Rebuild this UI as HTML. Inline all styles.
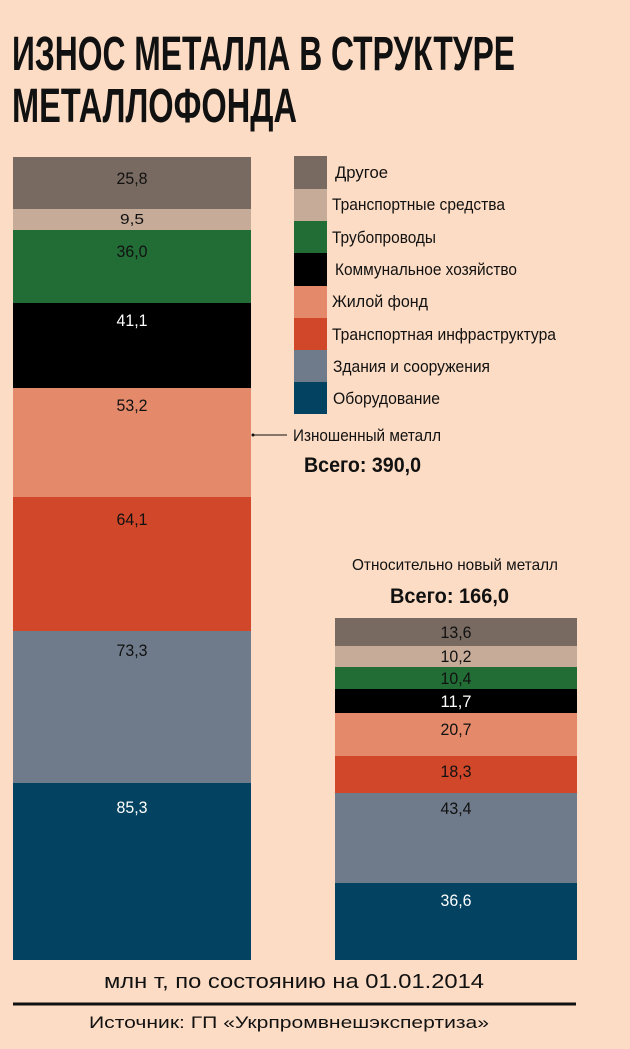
<!DOCTYPE html>
<html><head><meta charset="utf-8"><style>
html,body{margin:0;padding:0;background:#fcdcc4;}
svg{display:block}
text{font-family:"Liberation Sans Narrow","Liberation Sans",sans-serif;}
</style></head><body>
<svg width="630" height="1049" viewBox="0 0 630 1049" xmlns="http://www.w3.org/2000/svg">
<rect width="630" height="1049" fill="#fcdcc4"/>
<text x="12" y="70" font-size="48" font-weight="bold" textLength="503" lengthAdjust="spacingAndGlyphs" fill="#111">ИЗНОС МЕТАЛЛА В СТРУКТУРЕ</text>
<text x="12" y="122" font-size="48" font-weight="bold" textLength="285" lengthAdjust="spacingAndGlyphs" fill="#111">МЕТАЛЛОФОНДА</text>
<g font-size="17" text-anchor="middle">
<rect x="13" y="157" width="238" height="52" fill="#786a60"/>
<rect x="13" y="209" width="238" height="21" fill="#c7ab99"/>
<rect x="13" y="230" width="238" height="73" fill="#226d36"/>
<rect x="13" y="303" width="238" height="85" fill="#000"/>
<rect x="13" y="388" width="238" height="109" fill="#e48a6a"/>
<rect x="13" y="497" width="238" height="134" fill="#d0472a"/>
<rect x="13" y="631" width="238" height="152" fill="#6f7b8a"/>
<rect x="13" y="783" width="238" height="177" fill="#034260"/>
<g textLength="31" lengthAdjust="spacingAndGlyphs">
<text x="132" y="184" fill="#111" textLength="31" lengthAdjust="spacingAndGlyphs">25,8</text>
<text x="132" y="224" font-size="15" fill="#111" textLength="24" lengthAdjust="spacingAndGlyphs">9,5</text>
<text x="132" y="257" fill="#111" textLength="31" lengthAdjust="spacingAndGlyphs">36,0</text>
<text x="132" y="326" fill="#fff" textLength="31" lengthAdjust="spacingAndGlyphs">41,1</text>
<text x="132" y="411" fill="#111" textLength="31" lengthAdjust="spacingAndGlyphs">53,2</text>
<text x="132" y="525" fill="#111" textLength="31" lengthAdjust="spacingAndGlyphs">64,1</text>
<text x="132" y="656" fill="#111" textLength="31" lengthAdjust="spacingAndGlyphs">73,3</text>
<text x="132" y="813" fill="#fff" textLength="31" lengthAdjust="spacingAndGlyphs">85,3</text>
</g>
<rect x="335" y="618" width="242" height="28" fill="#786a60"/>
<rect x="335" y="646" width="242" height="21" fill="#c7ab99"/>
<rect x="335" y="667" width="242" height="22" fill="#226d36"/>
<rect x="335" y="689" width="242" height="24" fill="#000"/>
<rect x="335" y="713" width="242" height="43" fill="#e48a6a"/>
<rect x="335" y="756" width="242" height="37" fill="#d0472a"/>
<rect x="335" y="793" width="242" height="90" fill="#6f7b8a"/>
<rect x="335" y="883" width="242" height="77" fill="#034260"/>
<text x="456" y="638" fill="#111" textLength="31" lengthAdjust="spacingAndGlyphs">13,6</text>
<text x="456" y="662" fill="#111" textLength="31" lengthAdjust="spacingAndGlyphs">10,2</text>
<text x="456" y="684" fill="#111" textLength="31" lengthAdjust="spacingAndGlyphs">10,4</text>
<text x="456" y="707" fill="#fff" textLength="31" lengthAdjust="spacingAndGlyphs">11,7</text>
<text x="456" y="735" fill="#111" textLength="31" lengthAdjust="spacingAndGlyphs">20,7</text>
<text x="456" y="777" fill="#111" textLength="31" lengthAdjust="spacingAndGlyphs">18,3</text>
<text x="456" y="814" fill="#111" textLength="31" lengthAdjust="spacingAndGlyphs">43,4</text>
<text x="456" y="906" fill="#fff" textLength="31" lengthAdjust="spacingAndGlyphs">36,6</text>
</g>
<g font-size="17" fill="#111">
<rect x="294" y="156" width="33" height="33" fill="#786a60"/>
<rect x="294" y="189" width="33" height="32" fill="#c7ab99"/>
<rect x="294" y="221" width="33" height="32" fill="#226d36"/>
<rect x="294" y="253" width="33" height="33" fill="#000"/>
<rect x="294" y="286" width="33" height="32" fill="#e48a6a"/>
<rect x="294" y="318" width="33" height="32" fill="#d0472a"/>
<rect x="294" y="350" width="33" height="32" fill="#6f7b8a"/>
<rect x="294" y="382" width="33" height="32" fill="#034260"/>
<text x="335" y="178" textLength="53" lengthAdjust="spacingAndGlyphs">Другое</text>
<text x="332" y="210" textLength="173" lengthAdjust="spacingAndGlyphs">Транспортные средства</text>
<text x="332" y="243" textLength="104" lengthAdjust="spacingAndGlyphs">Трубопроводы</text>
<text x="335" y="275" textLength="182" lengthAdjust="spacingAndGlyphs">Коммунальное хозяйство</text>
<text x="332" y="307" textLength="96" lengthAdjust="spacingAndGlyphs">Жилой фонд</text>
<text x="332" y="340" textLength="224" lengthAdjust="spacingAndGlyphs">Транспортная инфраструктура</text>
<text x="333" y="372" textLength="157" lengthAdjust="spacingAndGlyphs">Здания и сооружения</text>
<text x="333" y="404" textLength="107" lengthAdjust="spacingAndGlyphs">Оборудование</text>
<line x1="253" y1="435" x2="287" y2="435" stroke="#111" stroke-width="1"/>
<circle cx="253" cy="435" r="1.5" fill="#111"/>
<text x="293" y="441" textLength="148" lengthAdjust="spacingAndGlyphs">Изношенный металл</text>
<text x="304" y="472" font-size="21" font-weight="bold" textLength="117" lengthAdjust="spacingAndGlyphs">Всего: 390,0</text>
<text x="352" y="570" font-size="16" textLength="206" lengthAdjust="spacingAndGlyphs">Относительно новый металл</text>
<text x="390" y="603" font-size="21" font-weight="bold" textLength="119" lengthAdjust="spacingAndGlyphs">Всего: 166,0</text>
<text x="104" y="988" font-size="20" textLength="380" lengthAdjust="spacingAndGlyphs">млн т, по состоянию на 01.01.2014</text>
<line x1="13" y1="1004" x2="576" y2="1004" stroke="#111" stroke-width="3"/>
<text x="89" y="1028" font-size="17" textLength="400" lengthAdjust="spacingAndGlyphs">Источник: ГП «Укрпромвнешэкспертиза»</text>
</g>
</svg>
</body></html>
